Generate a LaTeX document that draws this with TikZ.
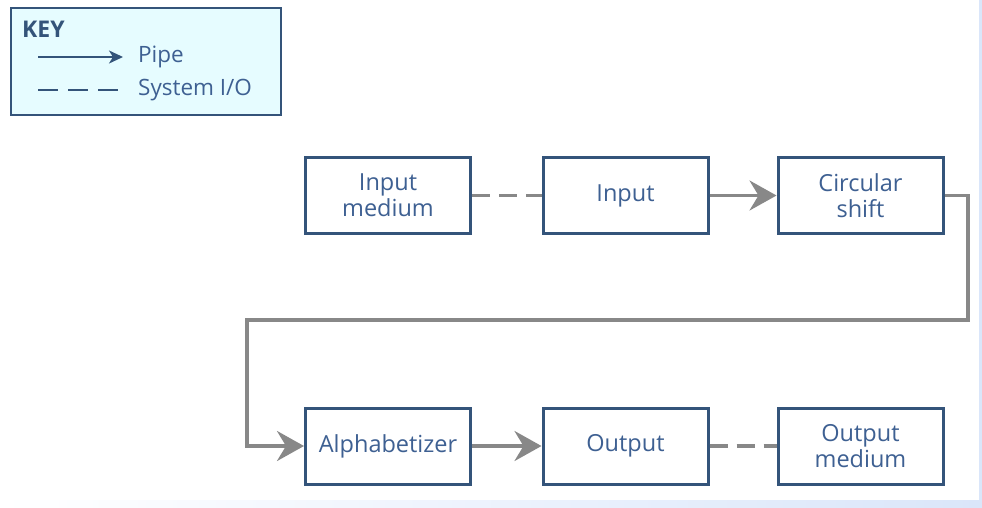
\documentclass[tikz,border=0pt]{standalone}
\usepackage{fontspec}
\setmainfont{Open Sans}
\usepackage{tikz}
\usetikzlibrary{arrows.meta, positioning}
\definecolor{boxblue}{RGB}{52,84,122}
\definecolor{txtblue}{RGB}{62,96,146}
\definecolor{pipegray}{RGB}{136,136,136}
\definecolor{keyfill}{RGB}{230,252,255}
\definecolor{edgeblue}{RGB}{218,230,250}
\tikzset{module/.style={draw=boxblue, line width=3pt, minimum width=165pt, minimum height=76pt, inner sep=0pt, align=center, text=txtblue, font=\fontsize{23.5}{26}\selectfont},
    pipe/.style={draw=pipegray, line width=3.5pt, -{Stealth[length=27pt,width=30pt,inset=9pt]}},
    sysio/.style={draw=pipegray, line width=3.5pt, dash pattern=on 18pt off 9pt},
    keytext/.style={anchor=west, inner sep=0pt, text=txtblue, font=\fontsize{22.5}{26}\selectfont}}

\begin{document}
\begin{tikzpicture}[x=1pt, y=-1pt]
                 \useasboundingbox (0,0) rectangle (982,508);
                 \fill[white] (0,0) rectangle (982,508);
                 \shade[left color=white, right color=edgeblue] (0,500) rectangle (982,508);
                 \fill[edgeblue] (979,0) rectangle (982,500);

                 % key
                 \draw[draw=boxblue, fill=keyfill, line width=2.5pt] (11,8) rectangle (281,115);
                 \node[anchor=west, inner sep=0pt, text=boxblue, font=\fontsize{23}{26}\selectfont\bfseries] (keytitle) at (22,29) {KEY};
                 \coordinate (pipeA) at (38,57);
                 \coordinate (pipeB) at (123,57);
                 \draw[draw=boxblue, line width=2pt, -{Stealth[length=14pt,width=13pt,inset=4pt]}] (pipeA) -- (pipeB);
                 \node[keytext] (pipelbl) at (138,57) {Pipe};
                 \coordinate (ioA) at (38,90);
                 \coordinate (ioB) at (118,90);
                 \draw[draw=boxblue, line width=2pt, dash pattern=on 20pt off 10pt] (ioA) -- (ioB);
                 \node[keytext] (iolbl) at (138,90) {System I/O};

                 % modules
                 \node[module] (inmed) at (388,195.5) {Input\\medium};
                 \node[module] (input) at (625.5,195.5) {Input};
                 \node[module] (cshift) at (860.5,195.5) {Circular\\shift};
                 \node[module] (alpha) at (388,446) {Alphabetizer};
                 \node[module] (output) at (625.5,446) {Output};
                 \node[module] (outmed) at (860.5,446) {Output\\medium};

                 % pipes
                 \coordinate (turnR) at (968,320);
                 \coordinate (turnL) at (247,320);
                 \draw[sysio] (inmed) -- (input);
                 \draw[pipe] (input) -- (cshift);
                 \draw[pipe] (cshift.east) -| (turnR) -- (turnL) |- (alpha.west);
                 \draw[pipe] (alpha) -- (output);
                 \draw[sysio] (output) -- (outmed);

           \end{tikzpicture}
\end{document}
